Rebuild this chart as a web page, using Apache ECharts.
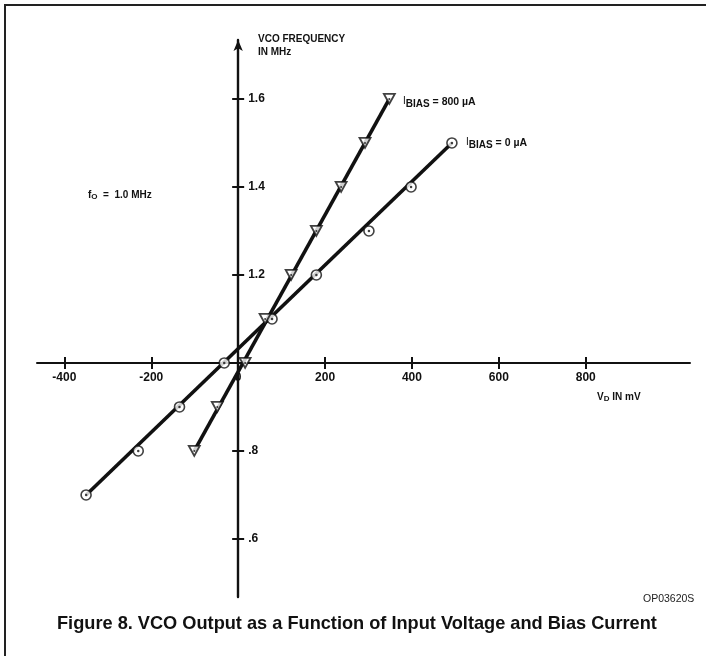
<!DOCTYPE html>
<html><head><meta charset="utf-8">
<script src="https://cdn.jsdelivr.net/npm/echarts@6/dist/echarts.min.js"></script>
<style>html,body{margin:0;padding:0;background:#fff}#c{width:706px;height:656px}</style>
</head><body><div id="c"></div>
<script>
// Data
const vdBias0 = [-350, -230, -135, -32, 78, 180, 301, 398, 492];      // mV
const fBias0  = [0.7, 0.8, 0.9, 1.0, 1.1, 1.2, 1.3, 1.4, 1.5];       // MHz
const vdBias800 = [-101, -48, 16, 62, 122, 180, 237, 292, 348];       // mV
const fBias800  = [0.8, 0.9, 1.0, 1.1, 1.2, 1.3, 1.4, 1.5, 1.6];     // MHz
const xTicks = [-400, -200, 0, 200, 400, 600, 800];
const xTickLabels = ['-400', '-200', '0', '200', '400', '600', '800'];
const yTicks = [0.6, 0.8, 1.2, 1.4, 1.6];
const yTickLabels = ['.6', '.8', '1.2', '1.4', '1.6'];

const X_MIN = -463, X_MAX = 1040, Y_MIN = 0.468, Y_MAX = 1.734, Y_CROSS = 1.0, X_CROSS = 0;
const G = {left: 37, right: 16, top: 40, bottom: 59};
const W = 706, H = 656;
const gw = W - G.left - G.right, gh = H - G.top - G.bottom;
const xOff = -gh * (Y_CROSS - Y_MIN) / (Y_MAX - Y_MIN);
const yOff = -gw * (X_CROSS - X_MIN) / (X_MAX - X_MIN);

const pairs = (xs, ys) => xs.map((x, i) => [x, ys[i]]);
// straight drawn line through the measured range (first to last measured point)
const ends = (xs, ys) => [[xs[0], ys[0]], [xs[xs.length - 1], ys[ys.length - 1]]];
const FONT = '"Liberation Sans", Arial, sans-serif';
const tri = 'path://M0,0 L10,0 L5,9 Z';

const chart = echarts.init(document.getElementById('c'), null, {renderer: 'canvas'});
const lbl = (vals, txt) => (v) => { const i = vals.findIndex(t => Math.abs(t - v) < 1e-6); return i >= 0 ? txt[i] : ''; };
const baseX = {
  type: 'value', min: X_MIN, max: X_MAX, position: 'bottom', offset: xOff,
  splitLine: {show: false}
};
const baseY = {
  type: 'value', min: Y_MIN, max: Y_MAX, position: 'left', offset: yOff,
  splitLine: {show: false}
};
chart.setOption({
  animation: false,
  backgroundColor: '#fff',
  grid: G,
  xAxis: [
    Object.assign({}, baseX, {
      axisLine: {show: true, lineStyle: {color: '#111', width: 2}},
      axisTick: {show: true, inside: false, length: 6, customValues: xTicks, lineStyle: {color: '#111', width: 2}},
      axisLabel: {show: true, customValues: xTicks, formatter: lbl(xTicks, xTickLabels), color: '#111', fontFamily: FONT, fontWeight: 'bold', fontSize: 12, margin: 9}
    }),
    Object.assign({}, baseX, {
      axisLine: {show: false},
      axisTick: {show: true, inside: true, length: 6, customValues: xTicks, lineStyle: {color: '#111', width: 2}},
      axisLabel: {show: false}
    })
  ],
  yAxis: [
    Object.assign({}, baseY, {
      axisLine: {show: true, symbol: ['none', 'arrow'], symbolSize: [7, 11], lineStyle: {color: '#111', width: 2.4}},
      axisTick: {show: true, inside: false, length: 6, customValues: yTicks, lineStyle: {color: '#111', width: 2}},
      axisLabel: {show: false}
    }),
    Object.assign({}, baseY, {
      axisLine: {show: false},
      axisTick: {show: true, inside: true, length: 6, customValues: yTicks, lineStyle: {color: '#111', width: 2}},
      axisLabel: {show: true, inside: true, customValues: yTicks, formatter: lbl(yTicks, yTickLabels), color: '#111', fontFamily: FONT, fontWeight: 'bold', fontSize: 12, margin: 10}
    })
  ],
  series: [
    {type: 'line', data: ends(vdBias0, fBias0), symbol: 'none', lineStyle: {color: '#111', width: 3.6}, z: 3},
    {type: 'line', data: ends(vdBias800, fBias800), symbol: 'none', lineStyle: {color: '#111', width: 3.6}, z: 3},
    {type: 'scatter', data: pairs(vdBias0, fBias0), symbol: 'circle', symbolSize: 10,
      itemStyle: {color: '#fff', borderColor: '#111', borderWidth: 1.6}, z: 5},
    {type: 'scatter', data: pairs(vdBias800, fBias800), symbol: tri, symbolSize: [11, 10],
      itemStyle: {color: '#fff', borderColor: '#111', borderWidth: 1.8}, z: 5},
    {type: 'scatter', data: pairs(vdBias0, fBias0), symbol: 'circle', symbolSize: 2.5,
      itemStyle: {color: '#111'}, z: 6},
    {type: 'scatter', data: pairs(vdBias800, fBias800), symbol: 'circle', symbolSize: 2,
      itemStyle: {color: '#111'}, z: 6}
  ],
  graphic: [
    {type: 'line', shape: {x1: 4, y1: 5, x2: 706, y2: 5}, style: {stroke: '#222', lineWidth: 2}},
    {type: 'line', shape: {x1: 5, y1: 4, x2: 5, y2: 656}, style: {stroke: '#222', lineWidth: 2}},
    {type: 'text', left: 258, top: 33, style: {text: 'VCO FREQUENCY\nIN MHz', fill: '#111', font: 'bold 10px ' + FONT, lineHeight: 13}},
    {type: 'text', left: 403, top: 96, style: {text: '{a|I}{b|BIAS}{c| = 800 µA}', rich: {
      a: {font: '10px ' + FONT, fill: '#111', verticalAlign: 'top'},
      b: {font: 'bold 10px ' + FONT, fill: '#111', padding: [3, 0, 0, 0]},
      c: {font: 'bold 10.5px ' + FONT, fill: '#111'}}}},
    {type: 'text', left: 466, top: 137, style: {text: '{a|I}{b|BIAS}{c| = 0 µA}', rich: {
      a: {font: '10px ' + FONT, fill: '#111', verticalAlign: 'top'},
      b: {font: 'bold 10px ' + FONT, fill: '#111', padding: [3, 0, 0, 0]},
      c: {font: 'bold 10.5px ' + FONT, fill: '#111'}}}},
    {type: 'text', left: 88, top: 190, style: {text: '{a|f}{b|O}{c|  =  1.0 MHz}', rich: {
      a: {font: 'bold 10px ' + FONT, fill: '#111'},
      b: {font: 'bold 8px ' + FONT, fill: '#111', padding: [4, 0, 0, 0]},
      c: {font: 'bold 10px ' + FONT, fill: '#111'}}}},
    {type: 'text', left: 597, top: 392, style: {text: '{a|V}{b|D}{c| IN mV}', rich: {
      a: {font: 'bold 10px ' + FONT, fill: '#111'},
      b: {font: 'bold 8px ' + FONT, fill: '#111', padding: [4, 0, 0, 0]},
      c: {font: 'bold 10px ' + FONT, fill: '#111'}}}},
    {type: 'text', left: 643, top: 594, style: {text: 'OP03620S', fill: '#222', font: '10.5px ' + FONT}},
    {type: 'text', left: 57, top: 615, style: {text: 'Figure 8. VCO Output as a Function of Input Voltage and Bias Current', fill: '#111', font: 'bold 18.2px ' + FONT}}
  ]
});
</script></body></html>
